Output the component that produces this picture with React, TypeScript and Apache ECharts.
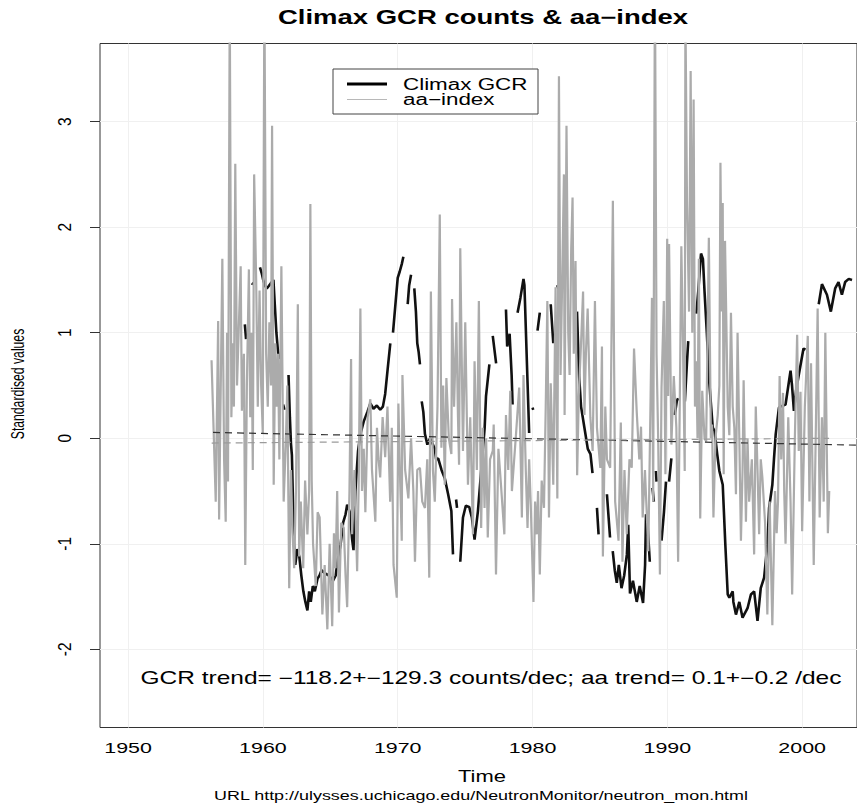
import React, { useEffect, useRef } from "react";
import * as echarts from "echarts";

// Axis extents (R style: 4% padding around data; right edge falls just outside the picture)
const X_MIN = 1947.915;
const X_MAX = 2004.07;
const Y_MIN = -2.74;
const Y_MAX = 3.74;

const xTicks = [1950, 1960, 1970, 1980, 1990, 2000];
const yTicks = [-2, -1, 0, 1, 2, 3];

// aa-index (standardised), [year, value]
const aaIndex: [number, number][] = [
  [1956.19, 0.74], [1956.5, -0.6], [1956.68, 1.11], [1956.75, -0.77], [1956.99, 1.7], [1957.12, -0.2],
  [1957.24, -0.79], [1957.34, 1.0], [1957.41, -0.41], [1957.54, 4.2], [1957.66, 0.2], [1957.78, 0.9],
  [1957.85, 0.3], [1957.95, 2.6], [1958.08, 0.5], [1958.2, 1.0], [1958.35, 1.63], [1958.44, 0.26],
  [1958.59, 0.8], [1958.69, -1.2], [1958.81, 0.5], [1958.96, 1.6], [1959.06, 0.2], [1959.16, 1.0],
  [1959.25, -0.3], [1959.35, 2.5], [1959.5, 1.5], [1959.62, 0.3], [1959.75, 1.4], [1959.87, 0.5],
  [1959.99, 0.05], [1960.11, 4.3], [1960.24, 0.8], [1960.36, 0.3], [1960.48, 1.1], [1960.6, 0.5],
  [1960.68, 2.96], [1960.8, -0.44], [1960.92, 0.9], [1961.02, 0.3], [1961.12, 0.8], [1961.22, -0.2],
  [1961.37, 1.63], [1961.54, -0.6], [1961.71, 0.0], [1961.81, 0.5], [1961.95, -1.42], [1962.08, -0.3],
  [1962.2, -0.9], [1962.32, -1.23], [1962.45, -0.5], [1962.59, 1.27], [1962.69, -1.12], [1962.81, -0.6],
  [1962.99, -1.23], [1963.13, -0.4], [1963.3, -0.91], [1963.43, -0.5], [1963.52, 2.22], [1963.62, -0.4],
  [1963.72, -1.0], [1963.92, -1.4], [1964.06, -0.7], [1964.21, -0.75], [1964.41, -1.67], [1964.58, -1.2],
  [1964.78, -1.81], [1964.95, -1.0], [1965.14, -1.78], [1965.27, -0.9], [1965.39, -1.23], [1965.51, -0.5],
  [1965.64, -1.65], [1965.81, -0.8], [1966.0, -0.85], [1966.13, -1.3], [1966.25, -1.6], [1966.42, -0.5],
  [1966.54, 0.75], [1966.62, -0.91], [1966.79, -0.3], [1966.99, -1.26], [1967.11, -0.4], [1967.23, 1.23],
  [1967.35, -0.5], [1967.48, -0.1], [1967.6, -0.7], [1967.77, 0.2], [1967.97, 0.37], [1968.09, -0.3],
  [1968.34, -0.79], [1968.46, 0.1], [1968.58, -0.2], [1968.7, -0.37], [1968.88, 0.2], [1969.07, -0.18],
  [1969.24, 0.3], [1969.44, -0.6], [1969.56, 0.1], [1969.69, -1.2], [1969.93, -1.51], [1970.05, 0.33],
  [1970.18, -0.4], [1970.3, -0.97], [1970.35, 0.6], [1970.55, -0.3], [1970.79, -0.57], [1970.99, 0.0],
  [1971.16, -0.5], [1971.28, -1.17], [1971.45, -0.3], [1971.65, -0.28], [1971.82, -0.6], [1972.02, -0.66],
  [1972.19, -0.2], [1972.34, -1.32], [1972.46, 1.39], [1972.61, -0.3], [1972.75, -0.6], [1972.95, 0.3],
  [1973.12, 2.12], [1973.24, -0.09], [1973.37, 0.5], [1973.49, -0.44], [1973.61, 0.57], [1973.79, 0.0],
  [1973.98, -0.15], [1974.03, 1.32], [1974.18, 0.3], [1974.35, 1.1], [1974.47, 0.2], [1974.55, -0.25],
  [1974.64, 1.8], [1974.84, -0.12], [1975.01, 1.1], [1975.21, -0.44], [1975.38, 0.2], [1975.58, -0.91],
  [1975.7, 0.73], [1975.87, -0.3], [1976.02, 1.3], [1976.19, -0.85], [1976.31, 0.1], [1976.44, -0.66],
  [1976.56, 0.0], [1976.68, -0.94], [1976.85, -0.2], [1977.05, -0.12], [1977.12, 0.13], [1977.29, -1.29],
  [1977.47, -0.1], [1977.66, -0.44], [1977.91, -0.91], [1978.03, 0.22], [1978.2, -0.3], [1978.35, 0.45],
  [1978.47, -0.5], [1978.77, 0.03], [1979.01, 0.48], [1979.14, -0.3], [1979.21, -0.75], [1979.33, 0.6],
  [1979.5, -0.3], [1979.63, -0.85], [1979.75, -0.2], [1979.87, -0.63], [1980.07, -1.55], [1980.19, -0.6],
  [1980.31, -0.91], [1980.41, -0.5], [1980.54, -1.29], [1980.68, -0.4], [1980.85, -0.66], [1980.98, 0.3],
  [1981.1, 1.3], [1981.22, -0.75], [1981.35, 0.52], [1981.54, -0.44], [1981.71, 1.43], [1981.84, -0.57],
  [1981.96, 3.43], [1982.08, 0.6], [1982.2, 1.5], [1982.33, 2.5], [1982.38, 0.22], [1982.52, 2.96],
  [1982.65, 1.0], [1982.75, 0.6], [1982.87, 1.8], [1982.97, 2.28], [1983.06, 0.8], [1983.19, 1.68],
  [1983.31, -0.35], [1983.43, 0.4], [1983.6, 0.9], [1983.75, 1.39], [1983.85, 0.22], [1983.96, 0.8],
  [1984.09, 1.23], [1984.29, 0.2], [1984.46, -0.12], [1984.63, 1.3], [1984.78, 0.1], [1985.03, -0.28],
  [1985.15, 0.87], [1985.22, -1.12], [1985.4, 0.3], [1985.52, -0.2], [1985.76, -0.28], [1985.96, 2.25],
  [1986.13, -0.6], [1986.38, -0.97], [1986.55, 0.15], [1986.67, -1.17], [1986.82, -0.3], [1986.99, -0.91],
  [1987.19, -0.2], [1987.36, -0.28], [1987.53, 0.85], [1987.73, 0.25], [1987.92, -0.2], [1988.05, 0.11],
  [1988.17, -0.75], [1988.34, -0.3], [1988.59, -1.07], [1988.76, 0.4], [1988.86, 1.33], [1988.95, -0.6],
  [1989.08, 4.4], [1989.2, 0.8], [1989.32, 0.0], [1989.45, -1.29], [1989.57, 0.48], [1989.74, 1.3],
  [1989.86, -0.34], [1989.99, 1.89], [1990.06, 0.4], [1990.13, 1.84], [1990.3, -0.06], [1990.48, 0.59],
  [1990.67, 0.1], [1990.8, -1.17], [1990.92, 0.3], [1991.04, 1.82], [1991.16, 0.9], [1991.29, -0.31],
  [1991.34, 4.1], [1991.46, 2.23], [1991.61, 1.2], [1991.73, 3.48], [1991.85, 1.0], [1991.95, 3.21],
  [1992.05, 0.3], [1992.15, 0.73], [1992.24, 0.0], [1992.34, 1.7], [1992.44, -0.76], [1992.59, 0.45],
  [1992.76, 0.0], [1992.88, -0.03], [1993.08, 1.9], [1993.23, 0.0], [1993.32, 0.13], [1993.42, -0.75],
  [1993.57, 0.0], [1993.74, 0.22], [1993.86, 0.5], [1993.94, 2.61], [1994.04, 1.2], [1994.11, 2.23],
  [1994.18, -0.34], [1994.28, 1.87], [1994.48, 0.3], [1994.6, 0.03], [1994.72, 1.19], [1994.85, 0.3],
  [1994.97, 0.1], [1995.09, -0.53], [1995.21, 1.0], [1995.34, 0.0], [1995.46, -0.97], [1995.58, -0.3],
  [1995.66, 0.55], [1995.83, -0.79], [1995.95, 0.0], [1996.07, -0.6], [1996.27, -0.2], [1996.44, -1.1],
  [1996.56, 0.3], [1996.69, -0.3], [1996.81, -0.91], [1996.93, -0.2], [1997.05, -0.37], [1997.25, -0.8],
  [1997.42, -1.67], [1997.59, -0.6], [1997.79, -1.77], [1997.99, -0.5], [1998.11, -0.9], [1998.21, -0.6],
  [1998.33, 0.59], [1998.45, -0.2], [1998.58, 0.43], [1998.67, -0.5], [1998.77, -1.0], [1998.97, 0.2],
  [1999.14, -0.6], [1999.26, -1.48], [1999.46, 0.0], [1999.63, 0.98], [1999.75, -0.12], [1999.88, 0.44],
  [2000.0, -0.88], [2000.2, 0.3], [2000.42, 0.97], [2000.54, -0.6], [2000.66, 0.71], [2000.86, -1.2],
  [2001.03, 0.2], [2001.15, 1.23], [2001.3, -0.75], [2001.47, 0.2], [2001.6, -0.6], [2001.72, 1.0],
  [2001.84, -0.2], [2001.91, -0.9], [2002.01, -0.5],
];

// Climax GCR counts (standardised), [year, value]; null = missing months
const climaxGcr: [number, number | null][] = [
  [1958.66, 1.08], [1958.75, 0.94], [1958.9, null],
  [1959.17, 1.47], [1959.27, 1.46], [1959.5, null],
  [1959.78, 1.62], [1959.92, 1.56], [1960.04, 1.49], [1960.18, 1.44], [1960.29, 1.42], [1960.42, 1.44],
  [1960.6, 1.47], [1960.78, 1.5], [1960.88, 1.27], [1961.0, 1.0], [1961.1, 0.85], [1961.2, 0.75], [1961.3, null],
  [1961.5, 0.32], [1961.6, 0.27], [1961.7, null],
  [1961.9, 0.6], [1962.0, 0.2], [1962.08, -0.05], [1962.15, -0.16], [1962.3, -0.98], [1962.4, -1.2],
  [1962.55, -1.05], [1962.7, -1.12], [1962.85, -1.3], [1963.0, -1.45], [1963.15, -1.55], [1963.3, -1.63],
  [1963.43, -1.45], [1963.55, -1.55], [1963.7, -1.4], [1963.85, -1.45], [1964.05, -1.33], [1964.2, -1.3],
  [1964.35, -1.25], [1964.6, -1.28], [1964.9, -1.3], [1965.2, -1.35], [1965.4, -1.3], [1965.55, -1.15],
  [1965.76, -1.01], [1965.95, -0.8], [1966.13, -0.72], [1966.25, -0.63], [1966.45, -0.7], [1966.62, -0.96],
  [1966.72, -1.06], [1966.86, -0.5], [1967.06, -0.12], [1967.23, 0.04], [1967.48, 0.16], [1967.75, 0.25],
  [1967.97, 0.33], [1968.2, 0.28], [1968.45, 0.31], [1968.7, 0.27], [1968.9, 0.3], [1969.07, 0.42],
  [1969.25, 0.65], [1969.45, 0.9], [1969.55, null],
  [1969.65, 1.0], [1969.85, 1.3], [1970.0, 1.52], [1970.15, 1.58], [1970.3, 1.65], [1970.42, 1.72], [1970.6, null],
  [1970.74, 1.27], [1970.85, 1.45], [1970.99, 1.55], [1971.1, null],
  [1971.23, 1.42], [1971.35, 1.2], [1971.45, 0.9], [1971.55, 0.82], [1971.65, 0.7], [1971.7, null],
  [1971.78, 0.35], [1971.9, 0.25], [1972.02, 0.04], [1972.2, -0.06], [1972.4, 0.0], [1972.75, -0.1],
  [1972.85, -0.2], [1973.0, -0.19], [1973.25, -0.3], [1973.49, -0.38], [1973.74, -0.53], [1973.98, -0.69],
  [1974.1, -1.1], [1974.2, null],
  [1974.33, -0.58], [1974.4, -0.66], [1974.5, null],
  [1974.64, -1.17], [1974.84, -0.75], [1975.05, -0.64], [1975.3, -0.65], [1975.5, -0.75], [1975.7, -0.96],
  [1975.95, -0.69], [1976.07, -0.5], [1976.31, -0.12], [1976.45, 0.1], [1976.55, 0.4], [1976.8, 0.7], [1976.9, null],
  [1977.05, 0.97], [1977.3, 0.71], [1977.6, null],
  [1978.03, 1.22], [1978.12, 0.87], [1978.3, 0.99], [1978.45, 0.6], [1978.52, 0.32], [1978.7, null],
  [1978.89, 1.19], [1979.1, 1.33], [1979.33, 1.51], [1979.4, 1.45], [1979.75, 0.05], [1979.9, null],
  [1980.0, 0.29], [1980.05, 0.27], [1980.2, null],
  [1980.37, 1.02], [1980.54, 1.19], [1980.9, null],
  [1981.35, 1.27], [1981.54, 0.9], [1981.7, null],
  [1981.84, 1.45], [1981.95, 1.4], [1982.05, 1.43], [1982.5, null],
  [1983.3, 1.2], [1983.45, 0.6], [1983.6, 0.3], [1983.85, 0.1], [1984.1, -0.1], [1984.3, -0.15],
  [1984.45, -0.33], [1984.6, null],
  [1984.78, -0.66], [1984.9, -0.91], [1985.2, null],
  [1985.52, -0.53], [1985.75, -0.94], [1985.85, null],
  [1985.95, -1.07], [1986.1, -1.25], [1986.25, -1.37], [1986.4, -1.2], [1986.6, -1.42], [1986.8, -1.3],
  [1987.0, -1.1], [1987.1, -0.82], [1987.23, -1.47], [1987.45, -1.35], [1987.73, -1.55], [1987.95, -1.4],
  [1988.2, -1.56], [1988.35, -1.2], [1988.42, -0.72], [1988.55, -0.85], [1988.7, -1.17], [1988.8, null],
  [1988.9, -0.47], [1989.0, -0.6], [1989.08, null],
  [1989.15, -0.31], [1989.2, -0.41], [1989.4, null],
  [1989.57, -0.97], [1989.75, -0.7], [1989.9, -0.41], [1990.0, null],
  [1990.13, -0.41], [1990.3, -0.19], [1990.4, null],
  [1990.55, 0.22], [1990.7, 0.35], [1990.8, 0.38], [1991.0, null],
  [1991.3, 0.35], [1991.45, 0.7], [1991.55, 0.92], [1991.8, null],
  [1992.15, 1.18], [1992.3, 1.4], [1992.44, 1.65], [1992.5, 1.75], [1992.64, 1.7], [1992.76, 1.39],
  [1992.93, 1.0], [1993.1, 0.55], [1993.37, 0.1], [1993.5, 0.07], [1993.7, -0.15], [1993.86, -0.31],
  [1994.11, -0.44], [1994.3, -1.0], [1994.48, -1.48], [1994.6, -1.51], [1994.85, -1.45], [1994.9, -1.55],
  [1995.09, -1.67], [1995.34, -1.55], [1995.58, -1.7], [1995.95, -1.61], [1996.2, -1.48], [1996.44, -1.45],
  [1996.69, -1.73], [1996.93, -1.42], [1997.18, -1.32], [1997.42, -1.01], [1997.55, -0.66], [1997.79, -0.44],
  [1997.91, -0.2], [1998.04, 0.04], [1998.28, 0.29], [1998.4, 0.3], [1998.77, 0.32], [1999.14, 0.64],
  [1999.25, 0.5], [1999.39, 0.26], [1999.55, 0.45], [1999.75, 0.6], [2000.1, 0.85], [2000.25, 0.84], [2000.6, null],
  [2001.23, 1.27], [2001.47, 1.46], [2001.84, 1.36], [2002.13, 1.2], [2002.45, 1.42], [2002.7, 1.48],
  [2002.95, 1.36], [2003.19, 1.48], [2003.46, 1.51], [2003.7, 1.5],
];

// Linear trends
const gcrTrendYears = [1956.3, 2004.07];
const gcrTrendValues = [0.055, -0.065];
const aaTrendYears = [1956.2, 2002.0];
const aaTrendValues = [-0.045, 0.0];

const TITLE = "Climax GCR counts & aa\u2212index";
const X_NAME = "Time";
const Y_NAME = "Standardised values";
const URL_TEXT = "URL http://ulysses.uchicago.edu/NeutronMonitor/neutron_mon.html";
const NOTE =
  "GCR trend= \u2212118.2+\u2212129.3 counts/dec; aa trend= 0.1+\u22120.2 /dec";
const LEGEND = ["Climax GCR", "aa\u2212index"];

const SANS = '"Liberation Sans", Arial, Helvetica, sans-serif';

export default function App() {
  const ref = useRef<HTMLDivElement>(null);

  useEffect(() => {
    if (!ref.current) return;
    const chart = echarts.init(ref.current, undefined, { renderer: "svg" });

    const stretchText = (
      text: string,
      x: number,
      y: number,
      size: number,
      sx: number,
      extra: any = {}
    ) => ({
      type: "text",
      x,
      y,
      scaleX: sx,
      z: 100,
      style: {
        text,
        fontSize: size,
        fontFamily: SANS,
        fill: "#000",
        align: "center",
        verticalAlign: "middle",
        ...extra,
      },
    });

    chart.setOption({
      animation: false,
      backgroundColor: "#ffffff",
      grid: {
        left: 100,
        top: 43.5,
        width: 762,
        height: 684,
        show: true,
        borderColor: "#333",
        borderWidth: 1,
        backgroundColor: "transparent",
      },
      xAxis: {
        type: "value",
        min: X_MIN,
        max: X_MAX,
        axisLine: { show: false },
        axisTick: {
          show: true,
          customValues: xTicks,
          length: 7,
          lineStyle: { color: "#333", width: 1 },
        },
        axisLabel: { show: false },
        splitLine: { show: false },
      },
      yAxis: {
        type: "value",
        min: Y_MIN,
        max: Y_MAX,
        axisLine: { show: false },
        axisTick: {
          show: true,
          customValues: yTicks,
          length: 10,
          lineStyle: { color: "#333", width: 1 },
        },
        axisLabel: { show: false },
        splitLine: { show: false },
      },
      series: [
        {
          name: "grid",
          type: "line",
          z: 1,
          data: [],
          silent: true,
          markLine: {
            silent: true,
            z: 1,
            symbol: "none",
            label: { show: false },
            lineStyle: { color: "#f0f0f0", width: 1, type: "solid" },
            data: [
              ...xTicks.map((v) => ({ xAxis: v })),
              ...yTicks.map((v) => ({ yAxis: v })),
            ],
          },
        },
        {
          name: LEGEND[0],
          type: "line",
          z: 2,
          showSymbol: false,
          symbol: "none",
          connectNulls: false,
          data: climaxGcr.map(([x, y]) => [x, y === null ? "-" : y]),
          lineStyle: { color: "#111", width: 2.6 },
        },
        {
          name: LEGEND[1],
          type: "line",
          z: 3,
          showSymbol: false,
          symbol: "none",
          data: aaIndex,
          lineStyle: { color: "#ababab", width: 2.2 },
        },
        {
          name: "gcrTrend",
          type: "line",
          z: 4,
          showSymbol: false,
          symbol: "none",
          data: gcrTrendYears.map((x, i) => [x, gcrTrendValues[i]]),
          lineStyle: { color: "#333", width: 1.2, type: [7, 5] },
        },
        {
          name: "aaTrend",
          type: "line",
          z: 4,
          showSymbol: false,
          symbol: "none",
          data: aaTrendYears.map((x, i) => [x, aaTrendValues[i]]),
          lineStyle: { color: "#9a9a9a", width: 1.2, type: [7, 5] },
        },
      ],
    });

    // Tick labels placed at the axes' own pixel positions (stretched like the source picture)
    const xLabels = xTicks.map((v) => {
      const px = chart.convertToPixel({ xAxisIndex: 0 }, v) as number;
      return stretchText(String(v), px, 748, 14, 1.53);
    });
    const yLabels = yTicks.map((v) => {
      const py = chart.convertToPixel({ yAxisIndex: 0 }, v) as number;
      return {
        type: "text",
        x: 65,
        y: py,
        rotation: Math.PI / 2,
        scaleY: 1.2,
        z: 100,
        style: {
          text: String(v),
          fontSize: 15.5,
          fontFamily: SANS,
          fill: "#000",
          align: "center",
          verticalAlign: "middle",
        },
      };
    });

    chart.setOption({
      graphic: [
        ...xLabels,
        ...yLabels,
        stretchText(TITLE, 483, 17, 19.5, 1.41, { fontWeight: "bold" }),
        stretchText(X_NAME, 482, 777, 15.7, 1.4),
        stretchText(URL_TEXT, 481, 795, 12.8, 1.4),
        stretchText(NOTE, 491, 678, 17.5, 1.4),
        {
          type: "text",
          x: 18,
          y: 384,
          rotation: Math.PI / 2,
          scaleY: 1.45,
          z: 100,
          style: {
            text: Y_NAME,
            fontSize: 12.2,
            fontFamily: SANS,
            fill: "#000",
            align: "center",
            verticalAlign: "middle",
          },
        },
        {
          type: "rect",
          z: 100,
          shape: { x: 333, y: 69, width: 205, height: 45 },
          style: { fill: "#ffffff", stroke: "#444", lineWidth: 1 },
        },
        {
          type: "line",
          z: 101,
          shape: { x1: 347, y1: 84, x2: 387, y2: 84 },
          style: { stroke: "#000", lineWidth: 3 },
        },
        {
          type: "line",
          z: 101,
          shape: { x1: 347, y1: 99.5, x2: 387, y2: 99.5 },
          style: { stroke: "#b8b8b8", lineWidth: 1.2 },
        },
        { ...stretchText(LEGEND[0], 403, 84.5, 16, 1.4, { align: "left" }), z: 101 },
        { ...stretchText(LEGEND[1], 403, 99.5, 16, 1.4, { align: "left" }), z: 101 },
      ],
    });

    return () => chart.dispose();
  }, []);

  return (
    <div
      ref={ref}
      style={{
        position: "fixed",
        left: 0,
        top: 0,
        width: 857,
        height: 803,
        background: "#fff",
      }}
    />
  );
}
